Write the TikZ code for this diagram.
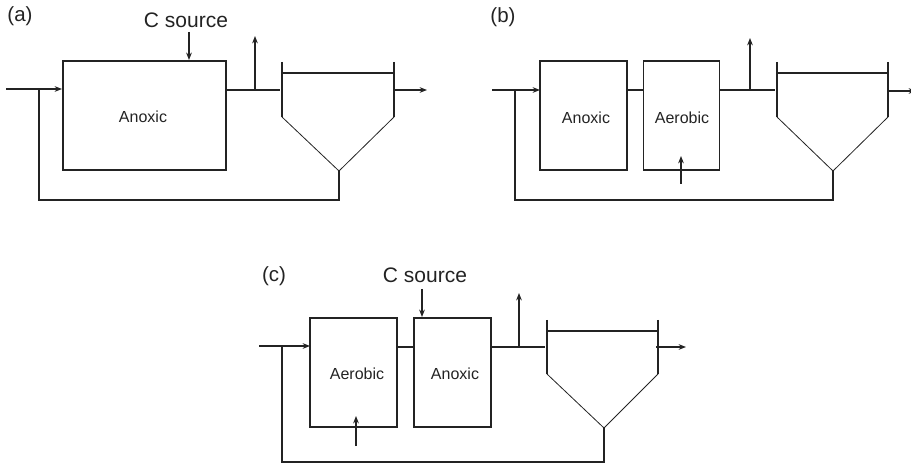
\documentclass[tikz,border=0pt]{standalone}
\usepackage{fontspec}
\setmainfont{Liberation Sans}
\usetikzlibrary{arrows.meta}
\definecolor{myline}{RGB}{35, 35, 35}
\begin{document}
\begin{tikzpicture}[
    x=1pt, y=-1pt,
    font=\fontsize{16}{19}\selectfont,
    text=myline,
    line_style/.style={line width=1.1pt, color=myline},
    cone_style/.style={line width=0.8pt, color=myline},
    arrow_style/.style={line_style, -{Stealth[length=2.6mm,width=2mm]}},
    box_style/.style={line_style, draw, inner sep=0pt},
    panel_style/.style={font=\fontsize{20.5}{24}\selectfont},
    source_style/.style={font=\fontsize{21}{25}\selectfont}
]
    \useasboundingbox (0,0) rectangle (911,465);

    % --- Tanks: name / left / right / top / shoulder / tip / water / tip x ---
    \foreach \tk/\xl/\xr/\yt/\ys/\yb/\yw/\xm in {
      ta/282/394/62/117/171/73/339,
      tb/777/888/62/117/171/73/833,
      tc/547/658/320/374/428/331/604}{
      \coordinate (\tk-tl) at (\xl,\yt);
      \coordinate (\tk-sl) at (\xl,\ys);
      \coordinate (\tk-tr) at (\xr,\yt);
      \coordinate (\tk-sr) at (\xr,\ys);
      \coordinate (\tk-tip) at (\xm,\yb);
      \coordinate (\tk-wl) at (\xl+1,\yw);
      \coordinate (\tk-wr) at (\xr-1,\yw);
      \draw[line_style] (\tk-tl) -- (\tk-sl);
      \draw[line_style] (\tk-tr) -- (\tk-sr);
      \draw[cone_style] (\tk-sl) -- (\tk-tip) -- (\tk-sr);
      \draw[line_style] (\tk-wl) -- (\tk-wr);
    }

    % --- Panel a ---
    \node[panel_style] (lab_a) at (20,16) {(a)};
    \node[box_style, minimum width=163pt, minimum height=109pt] (a1) at (144.5,115.5) {};
    \node (a1_txt) at (143,117) {Anoxic};
    \node[source_style] (src_a) at (186,20) {C source};
    \coordinate (a_in) at (6,89);
    \coordinate (a_inend) at (62,89);
    \coordinate (a_rec) at (39,89);
    \coordinate (a_low) at (39,200);
    \coordinate (a_lowr) at (339,200);
    \coordinate (a_sp) at (226,90);
    \coordinate (a_tk) at (280,90);
    \coordinate (a_up) at (255,90);
    \coordinate (a_uptop) at (255,36);
    \coordinate (a_out) at (394,90);
    \coordinate (a_outend) at (427,90);
    \coordinate (a_cs) at (189,32);
    \coordinate (a_ce) at (189,60);
    \draw[arrow_style] (a_in) -- (a_inend);
    \draw[line_style] (a_rec) -- (a_low) -- (a_lowr) -- (ta-tip);
    \draw[line_style] (a_sp) -- (a_tk);
    \draw[arrow_style] (a_up) -- (a_uptop);
    \draw[arrow_style] (a_out) -- (a_outend);
    \draw[arrow_style] (a_cs) -- (a_ce);

    % --- Panel b ---
    \node[panel_style] (lab_b) at (503,17) {(b)};
    \node[box_style, minimum width=87pt, minimum height=109pt] (b1) at (583.5,115.5) {};
    \node[box_style, minimum width=76pt, minimum height=109pt] (b2) at (681.5,115.5) {};
    \node (b1_txt) at (586,118) {Anoxic};
    \node (b2_txt) at (682,118) {Aerobic};
    \coordinate (b_in) at (492,90);
    \coordinate (b_inend) at (540,90);
    \coordinate (b_rec) at (515,90);
    \coordinate (b_low) at (515,200);
    \coordinate (b_lowr) at (833,200);
    \coordinate (b_m1) at (627,90);
    \coordinate (b_m2) at (643.5,90);
    \coordinate (b_sp) at (719.5,90);
    \coordinate (b_tk) at (775,90);
    \coordinate (b_up) at (750,90);
    \coordinate (b_uptop) at (750,38);
    \coordinate (b_out) at (888,91);
    \coordinate (b_outend) at (916,91);
    \coordinate (b_as) at (681,184);
    \coordinate (b_ae) at (681,156);
    \draw[arrow_style] (b_in) -- (b_inend);
    \draw[line_style] (b_rec) -- (b_low) -- (b_lowr) -- (tb-tip);
    \draw[line_style] (b_m1) -- (b_m2);
    \draw[line_style] (b_sp) -- (b_tk);
    \draw[arrow_style] (b_up) -- (b_uptop);
    \draw[arrow_style] (b_out) -- (b_outend);
    \draw[arrow_style] (b_as) -- (b_ae);

    % --- Panel c ---
    \node[panel_style] (lab_c) at (274,276) {(c)};
    \node[box_style, minimum width=87pt, minimum height=109pt] (c1) at (353.5,372.5) {};
    \node[box_style, minimum width=77pt, minimum height=109pt] (c2) at (452.5,372.5) {};
    \node (c1_txt) at (357,374) {Aerobic};
    \node (c2_txt) at (455,374) {Anoxic};
    \node[source_style] (src_c) at (425,275) {C source};
    \coordinate (c_in) at (259,346);
    \coordinate (c_inend) at (310,346);
    \coordinate (c_rec) at (282,346);
    \coordinate (c_low) at (282,462);
    \coordinate (c_lowr) at (604,462);
    \coordinate (c_m1) at (397,347);
    \coordinate (c_m2) at (414,347);
    \coordinate (c_sp) at (491,347);
    \coordinate (c_tk) at (545,347);
    \coordinate (c_up) at (519,347);
    \coordinate (c_uptop) at (519,293);
    \coordinate (c_out) at (656,347);
    \coordinate (c_outend) at (686,347);
    \coordinate (c_as) at (356,446);
    \coordinate (c_ae) at (356,416);
    \coordinate (c_cs) at (422,289);
    \coordinate (c_ce) at (422,317);
    \draw[arrow_style] (c_in) -- (c_inend);
    \draw[line_style] (c_rec) -- (c_low) -- (c_lowr) -- (tc-tip);
    \draw[line_style] (c_m1) -- (c_m2);
    \draw[line_style] (c_sp) -- (c_tk);
    \draw[arrow_style] (c_up) -- (c_uptop);
    \draw[arrow_style] (c_out) -- (c_outend);
    \draw[arrow_style] (c_as) -- (c_ae);
    \draw[arrow_style] (c_cs) -- (c_ce);
\end{tikzpicture}
\end{document}
